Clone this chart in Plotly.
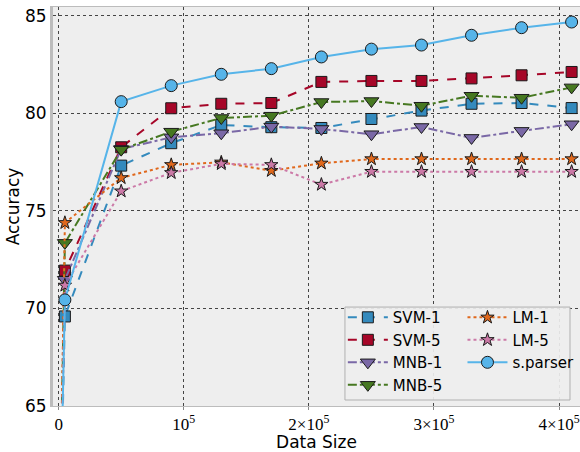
import plotly.graph_objects as go

data_size = [0, 5000, 50000, 90000, 130000, 170000, 210000, 250000, 290000, 330000, 370000, 410000]

svm1 = [55.0, 69.59, 77.32, 78.47, 79.40, 79.29, 79.25, 79.71, 80.14, 80.49, 80.53, 80.27]
svm5 = [55.0, 71.94, 78.26, 80.26, 80.49, 80.53, 81.61, 81.66, 81.66, 81.79, 81.95, 82.12]
mnb1 = [55.0, 71.47, 78.17, 78.77, 78.98, 79.32, 79.20, 78.93, 79.30, 78.74, 79.10, 79.44]
mnb5 = [55.0, 73.36, 78.14, 79.06, 79.76, 79.88, 80.58, 80.63, 80.39, 80.90, 80.80, 81.33]
lm1 = [55.0, 74.39, 76.69, 77.36, 77.49, 77.06, 77.44, 77.66, 77.66, 77.66, 77.66, 77.66]
lm5 = [55.0, 71.18, 76.01, 76.95, 77.41, 77.36, 76.35, 77.01, 77.01, 77.01, 77.01, 77.01]
sparser = [55.0, 70.44, 80.60, 81.42, 82.00, 82.29, 82.89, 83.29, 83.50, 84.00, 84.39, 84.68]

x_tickvals = [0, 100000, 200000, 300000, 400000]
x_ticktext = ["0", "10<sup>5</sup>", "2×10<sup>5</sup>", "3×10<sup>5</sup>", "4×10<sup>5</sup>"]
y_tickvals = [65, 70, 75, 80, 85]

series = [
    # name, values, color, dash, symbol, size, legend
    ("SVM-1", svm1, "#348ABD", "dash", "square", 11, "legend"),
    ("SVM-5", svm5, "#A60628", "dash", "square", 11, "legend"),
    ("MNB-1", mnb1, "#7A68A6", "dashdot", "triangle-down", 13, "legend"),
    ("MNB-5", mnb5, "#467821", "dashdot", "triangle-down", 13, "legend"),
    ("LM-1", lm1, "#E0681C", "dot", "star", 10, "legend2"),
    ("LM-5", lm5, "#CC79A7", "dot", "star", 10, "legend2"),
    ("s.parser", sparser, "#56B4E9", "solid", "circle", 12, "legend2"),
]

fig = go.Figure()
for name, vals, color, dash, sym, size, lg in series:
    fig.add_trace(go.Scatter(
        x=data_size, y=vals, name=name, mode="lines+markers",
        line=dict(color=color, dash=dash, width=2),
        marker=dict(symbol=sym, size=size, color=color,
                    line=dict(color="#1a1a1a", width=1)),
        legend=lg,
    ))

legend_common = dict(
    orientation="v",
    yanchor="top", y=0.263,
    bgcolor="rgba(0,0,0,0)", borderwidth=0,
    font=dict(size=15, family="DejaVu Sans", color="black"),
    tracegroupgap=0, itemwidth=40,
)

fig.update_layout(
    width=580, height=452,
    margin=dict(l=53, r=0, t=7, b=46),
    paper_bgcolor="white",
    plot_bgcolor="#EEEEEE",
    font=dict(family="DejaVu Sans", size=16, color="black"),
    showlegend=True,
    legend=dict(x=0.550, xanchor="left", **legend_common),
    legend2=dict(x=0.777, xanchor="left", **legend_common),
    shapes=[dict(
        type="rect", xref="paper", yref="paper",
        x0=0.554, x1=0.981, y0=0.015, y1=0.248,
        line=dict(color="#B0B0B0", width=1),
        fillcolor="rgba(238,238,238,0.92)", layer="above",
    )],
)

fig.update_xaxes(
    range=[-4500, 416700],
    tickvals=x_tickvals, ticktext=x_ticktext,
    tickfont=dict(family="Liberation Serif", size=17),
    title=dict(text="Data Size", font=dict(size=17), standoff=3),
    showgrid=True, gridcolor="#444444", griddash="dot", gridwidth=1,
    zeroline=False, automargin=False,
    showline=True, linecolor="#BCBCBC", linewidth=1, mirror=True,
    ticks="outside", ticklen=3, tickcolor="#888888",
)
fig.update_yaxes(
    range=[65, 85.45],
    tickvals=y_tickvals,
    tickfont=dict(size=17),
    title=dict(text="Accuracy", font=dict(size=17), standoff=2),
    showgrid=True, gridcolor="#444444", griddash="dot", gridwidth=1,
    zeroline=False, automargin=False,
    showline=True, linecolor="#BCBCBC", linewidth=3, mirror=True,
    ticks="",
)

fig.write_html("out.html", config={"displayModeBar": False},
               post_script="document.body.style.margin='0px';")
